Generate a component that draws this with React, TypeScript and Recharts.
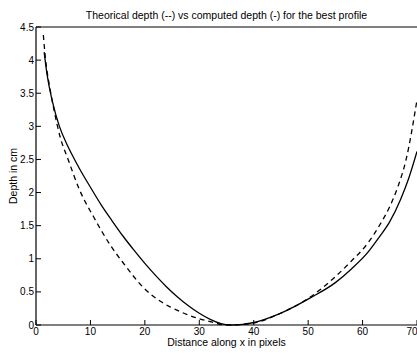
import React from "react";
import { LineChart, Line, XAxis, YAxis, Label } from "recharts";

const theoryX = [1.35, 1.7, 2.5, 3.3, 4.4, 5.9, 8, 10.6, 13.7, 16, 19.8, 23, 26, 29, 32, 35, 38, 40, 45, 50, 52, 55, 58, 61, 63, 65, 66.5, 68, 70];
const theoryDepth = [4.38, 4.05, 3.6, 3.25, 2.85, 2.5, 2.04, 1.63, 1.2, 0.94, 0.56, 0.35, 0.22, 0.12, 0.05, 0.0, 0.01, 0.03, 0.18, 0.4, 0.52, 0.73, 0.97, 1.24, 1.49, 1.79, 2.09, 2.5, 3.4];

const computedX = [1.5, 2, 3, 4.3, 5.5, 6.7, 8, 10, 12, 14, 16, 18, 20, 22, 24, 26, 28, 30, 32, 34, 35.5, 38, 39.6, 45, 50.4, 55, 58, 61, 63, 65, 67, 68.5, 70];
const computedDepth = [4.12, 3.8, 3.38, 3.0, 2.76, 2.56, 2.36, 2.08, 1.81, 1.57, 1.34, 1.13, 0.93, 0.745, 0.575, 0.424, 0.29, 0.177, 0.086, 0.022, 0.0, 0.01, 0.03, 0.18, 0.41, 0.64, 0.85, 1.1, 1.32, 1.56, 1.9, 2.22, 2.62];

const xTicks = [0, 10, 20, 30, 40, 50, 60, 70];
const yTicks = [0, 0.5, 1, 1.5, 2, 2.5, 3, 3.5, 4, 4.5];

const titleText = "Theorical depth (--) vs computed depth (-) for the best profile";
const xLabelText = "Distance along x in pixels";
const yLabelText = "Depth in cm";

const theoryData = theoryX.map((x, i) => ({ x, y: theoryDepth[i] }));
const computedData = computedX.map((x, i) => ({ x, y: computedDepth[i] }));

const FONT = "'Liberation Sans', Arial, Helvetica, sans-serif";
const tickStyle = { fill: "#000", fontSize: 10, fontFamily: FONT };
const axisLine = { stroke: "#000", strokeWidth: 1.2 };
const tickLine = { stroke: "#000", strokeWidth: 1 };

export default function App() {
  return (
    <div style={{ position: "absolute", left: 0, top: 0, width: 417, height: 353, background: "#fff" }}>
      <LineChart
        width={417}
        height={353}
        margin={{ top: 26, right: 0, bottom: 0, left: 0 }}
        style={{ fontFamily: FONT }}
      >
        <XAxis
          xAxisId="bottom"
          dataKey="x"
          type="number"
          domain={[0, 70]}
          ticks={xTicks}
          allowDataOverflow
          height={28}
          tickSize={-5}
          tickMargin={8}
          tick={tickStyle}
          axisLine={axisLine}
          tickLine={tickLine}
        >
          <Label
            value={xLabelText}
            position="insideBottom"
            offset={7}
            style={{ fill: "#000", fontSize: 10.5, fontFamily: FONT }}
          />
        </XAxis>
        <XAxis
          xAxisId="top"
          orientation="top"
          dataKey="x"
          type="number"
          domain={[0, 70]}
          ticks={xTicks}
          height={1}
          tickSize={-5}
          tick={() => <g />}
          axisLine={axisLine}
          tickLine={tickLine}
        >
          <Label
            value={titleText}
            position="top"
            offset={7}
            style={{ fill: "#000", fontSize: 10.5, fontFamily: FONT }}
          />
        </XAxis>
        <YAxis
          yAxisId="left"
          type="number"
          domain={[0, 4.5]}
          ticks={yTicks}
          width={36}
          tickSize={-5}
          tickMargin={7}
          tick={tickStyle}
          axisLine={axisLine}
          tickLine={tickLine}
        >
          <Label
            value={yLabelText}
            angle={-90}
            position="insideLeft"
            offset={13}
            style={{ fill: "#000", fontSize: 10.5, fontFamily: FONT, textAnchor: "middle" }}
          />
        </YAxis>
        <YAxis
          yAxisId="right"
          orientation="right"
          type="number"
          domain={[0, 4.5]}
          ticks={yTicks}
          width={0}
          tickSize={-5}
          tick={() => <g />}
          axisLine={axisLine}
          tickLine={tickLine}
        />
        <Line
          xAxisId="bottom"
          yAxisId="left"
          data={theoryData}
          dataKey="y"
          type="monotone"
          stroke="#000"
          strokeWidth={1.3}
          strokeDasharray="5 4"
          dot={false}
          isAnimationActive={false}
        />
        <Line
          xAxisId="bottom"
          yAxisId="left"
          data={computedData}
          dataKey="y"
          type="monotone"
          stroke="#000"
          strokeWidth={1.3}
          dot={false}
          isAnimationActive={false}
        />
      </LineChart>
    </div>
  );
}
